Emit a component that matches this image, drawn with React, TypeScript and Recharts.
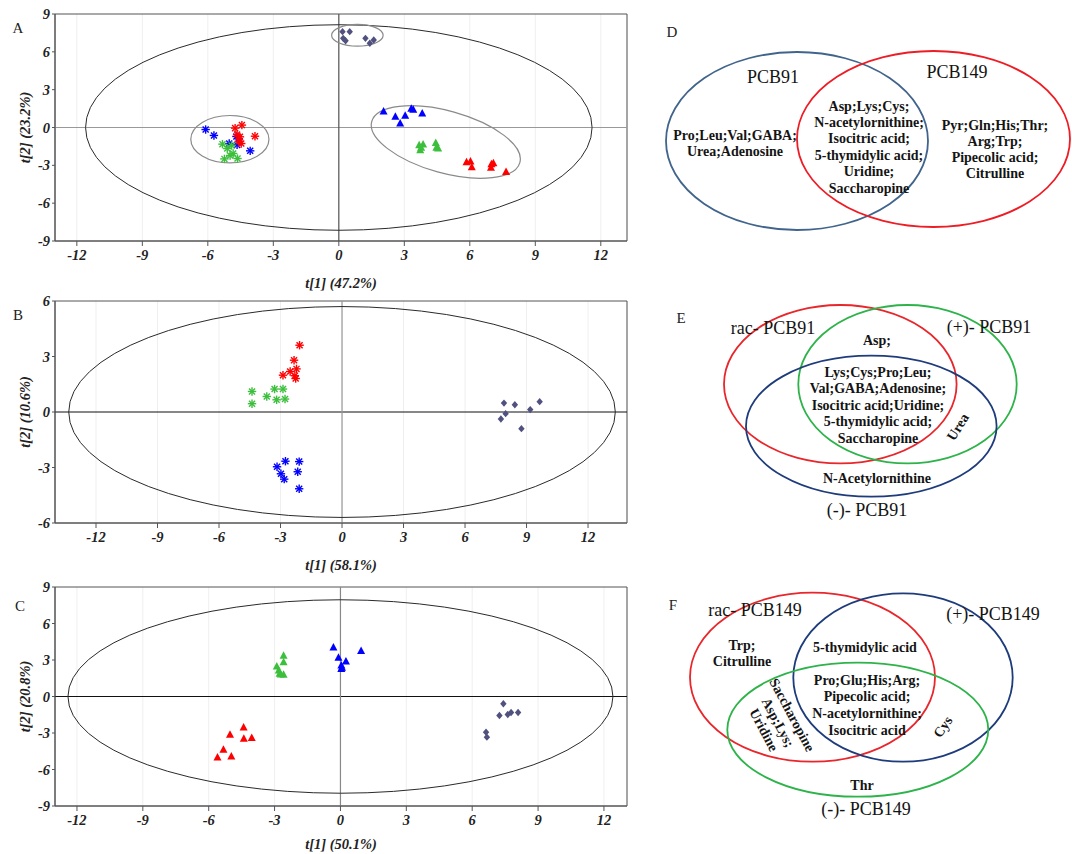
import React from 'react'
import {
  ScatterChart,
  Scatter,
  XAxis,
  YAxis,
  CartesianGrid,
  ReferenceLine,
  ReferenceArea,
} from 'recharts'

const SERIF = '"Liberation Serif", "Times New Roman", serif'
const RED = '#ff0000'
const BLUE = '#0000ff'
const GREEN = '#3cbf3c'
const SLATE = '#515180'

// score plot ticks
const xTicks = [-12, -9, -6, -3, 0, 3, 6, 9, 12]
const yTicks9 = [-9, -6, -3, 0, 3, 6, 9]
const yTicks6 = [-6, -3, 0, 3, 6]

// A: t[1] vs t[2], all groups
const aStarBlue = [[-6.1, -0.16], [-5.72, -0.63], [-5.02, -1.27], [-4.69, -0.71], [-4.66, -1.38], [-4.58, -0.9], [-4.06, -1.85]]
const aStarRed = [[-4.75, -0.05], [-4.44, 0.19], [-3.84, -0.69], [-4.53, -0.74], [-4.47, -1.27], [-4.58, -1.08], [-4.66, -0.56]]
const aStarGreen = [[-5.33, -1.32], [-5.11, -1.67], [-4.91, -1.43], [-4.84, -2.06], [-4.98, -2.22], [-5.24, -2.49], [-4.64, -2.46]]
const aTriBlue = [[2.05, 1.27], [2.59, 0.85], [2.81, 0.32], [3.04, 0.93], [3.32, 1.48], [3.41, 1.4], [3.82, 1.11]]
const aTriGreen = [[3.68, -1.4], [3.73, -1.8], [3.86, -1.35], [4.44, -1.22], [4.47, -1.61], [4.55, -1.67], [3.77, -1.61]]
const aTriRed = [[5.85, -2.75], [6.03, -2.7], [6.09, -3.15], [6.99, -2.91], [7.08, -2.83], [6.97, -3.2], [7.66, -3.52]]
const aDiamond = [[0.17, 7.6], [0.5, 7.6], [0.2, 7.07], [0.31, 6.88], [1.22, 7.07], [1.42, 6.68], [1.6, 6.94]]
const aHotelling = [{ x: 0, y: 0, rx: 11.6, ry: 8.15 }]
const aClusters = [
  { x: 0.85, y: 7.31, rx: 1.18, ry: 0.86, angle: 0 },
  { x: -4.99, y: -0.93, rx: 1.79, ry: 1.88, angle: 0 },
  { x: 4.9, y: -1.15, rx: 3.52, ry: 2.46, angle: 15.5 },
]

// B: PCB91
const bStarRed = [[-2.07, 3.61], [-2.34, 2.8], [-2.22, 2.33], [-2.53, 2.19], [-2.88, 1.99], [-2.3, 1.96], [-2.26, 1.81]]
const bStarGreen = [[-4.39, 1.11], [-4.39, 0.45], [-3.67, 0.84], [-3.29, 1.24], [-2.88, 1.24], [-3.19, 0.66], [-2.78, 0.7]]
const bStarBlue = [[-3.17, -2.96], [-2.76, -2.66], [-2.09, -2.68], [-2.98, -3.34], [-2.82, -3.63], [-2.16, -3.23], [-2.09, -4.15]]
const bDiamond = [[7.9, 0.48], [7.98, -0.09], [7.75, -0.38], [8.43, 0.39], [9.18, 0.13], [9.64, 0.56], [8.75, -0.9]]
const bHotelling = [{ x: 0, y: 0, rx: 13.33, ry: 5.7 }]

// C: PCB149
const cTriBlue = [[-0.32, 4.03], [-0.09, 3.18], [0.94, 3.73], [0.25, 2.88], [0.04, 2.55], [0.04, 2.27], [0.07, 2.36]]
const cTriGreen = [[-2.59, 3.34], [-2.59, 2.82], [-2.9, 2.47], [-2.81, 2.14], [-2.72, 1.81], [-2.59, 1.78], [-2.77, 1.86]]
const cTriRed = [[-4.41, -2.55], [-5.03, -3.15], [-4.4, -3.48], [-4.04, -3.42], [-5.33, -4.38], [-5.6, -5.01], [-4.97, -4.93]]
const cDiamond = [[7.42, -0.6], [7.24, -1.56], [7.62, -1.48], [7.77, -1.32], [8.09, -1.32], [6.63, -2.93], [6.67, -3.34]]
const cHotelling = [{ x: 0, y: 0, rx: 12.41, ry: 7.95 }]

// Venn texts
const dSetNames = ['PCB91', 'PCB149']
const dOnly91 = ['Pro;Leu;Val;GABA;', 'Urea;Adenosine']
const dShared = ['Asp;Lys;Cys;', 'N-acetylornithine;', 'Isocitric acid;', '5-thymidylic acid;', 'Uridine;', 'Saccharopine']
const dOnly149 = ['Pyr;Gln;His;Thr;', 'Arg;Trp;', 'Pipecolic acid;', 'Citrulline']

const eSetNames = ['rac- PCB91', '(+)- PCB91', '(-)- PCB91']
const eRacPlus = ['Asp;']
const eAll = ['Lys;Cys;Pro;Leu;', 'Val;GABA;Adenosine;', 'Isocitric acid;Uridine;', '5-thymidylic acid;', 'Saccharopine']
const ePlusMinus = ['Urea']
const eMinusOnly = ['N-Acetylornithine']

const fSetNames = ['rac- PCB149', '(+)- PCB149', '(-)- PCB149']
const fRacOnly = ['Trp;', 'Citrulline']
const fRacPlus = ['5-thymidylic acid']
const fAll = ['Pro;Glu;His;Arg;', 'Pipecolic acid;', 'N-acetylornithine;', 'Isocitric acid']
const fRacMinus = ['Saccharopine', 'Asp;Lys;', 'Uridine']
const fPlusMinus = ['Cys']
const fMinusOnly = ['Thr']

const pts = (arr: number[][]) => arr.map(([x, y]) => ({ x, y }))

const tickStyle = { fontFamily: SERIF, fontSize: 14.5, fontWeight: 700, fontStyle: 'italic', fill: '#222' }

function markerShape(marker: string, color: string) {
  return (p: any) => {
    const { cx, cy } = p
    if (cx == null || cy == null) return <g />
    if (marker === 'star') {
      const r = 4.2
      const d = r * 0.72
      return (
        <g stroke={color} strokeWidth={1.4}>
          <line x1={cx - r} y1={cy} x2={cx + r} y2={cy} />
          <line x1={cx} y1={cy - r} x2={cx} y2={cy + r} />
          <line x1={cx - d} y1={cy - d} x2={cx + d} y2={cy + d} />
          <line x1={cx - d} y1={cy + d} x2={cx + d} y2={cy - d} />
        </g>
      )
    }
    if (marker === 'tri') {
      return <polygon points={`${cx},${cy - 4.5} ${cx - 4},${cy + 3} ${cx + 4},${cy + 3}`} fill={color} />
    }
    return <polygon points={`${cx},${cy - 3.7} ${cx + 3.2},${cy} ${cx},${cy + 3.7} ${cx - 3.2},${cy}`} fill={color} />
  }
}

function ellipseShape(kx: number, ky: number, stroke: string, width: number) {
  return (p: any) => {
    const { cx, cy, payload } = p
    const a = payload.angle || 0
    return (
      <ellipse
        cx={cx}
        cy={cy}
        rx={payload.rx * kx}
        ry={payload.ry * ky}
        transform={`rotate(${a} ${cx} ${cy})`}
        fill="none"
        stroke={stroke}
        strokeWidth={width}
      />
    )
  }
}

function AxisTitle(props: any) {
  const { viewBox, kind, text, gap = 42 } = props
  if (!viewBox) return null
  const { x, y, width, height } = viewBox
  const style = { fontFamily: SERIF, fontSize: 14.5, fontWeight: 700, fontStyle: 'italic' as const }
  if (kind === 'x') {
    return (
      <text x={x + width / 2} y={y + gap} textAnchor="middle" dominantBaseline="central" fill="#222" style={style}>
        {text}
      </text>
    )
  }
  const cx = x + 25
  const cy = y + height / 2
  return (
    <text x={cx} y={cy} transform={`rotate(-90 ${cx} ${cy})`} textAnchor="middle" dominantBaseline="central" fill="#222" style={style}>
      {text}
    </text>
  )
}

function Letter({ x, y, text }: { x: number; y: number; text: string }) {
  return (
    <div
      style={{
        position: 'absolute',
        left: x,
        top: y,
        transform: 'translate(-50%, -50%)',
        fontFamily: SERIF,
        fontSize: 15,
        color: '#222',
        lineHeight: 1,
      }}
    >
      {text}
    </div>
  )
}

type Series = { data: number[][]; marker: string; color: string }

function ScorePlot(props: {
  top: number
  plotTop: number
  plotBottom: number
  xDomain: [number, number]
  yDomain: [number, number]
  yTicks: number[]
  xTitle: string
  yTitle: string
  titleGap?: number
  hotelling: any[]
  clusters?: any[]
  series: Series[]
  hLine: string
  vLine: string
}) {
  const { top, plotTop, plotBottom, xDomain, yDomain, yTicks, xTitle, yTitle, titleGap, hotelling, clusters, series, hLine, vLine } = props
  const width = 640
  const plotW = width - 55 - 13
  const plotH = plotBottom - plotTop
  const kx = plotW / (xDomain[1] - xDomain[0])
  const ky = plotH / (yDomain[1] - yDomain[0])
  return (
    <div style={{ position: 'absolute', left: 0, top }}>
      <ScatterChart
        width={width}
        height={plotBottom - top + 54}
        margin={{ top: plotTop - top, right: 13, bottom: 0, left: 0 }}
      >
        <CartesianGrid horizontal={false} stroke="#efefef" />
        <XAxis
          type="number"
          dataKey="x"
          domain={xDomain}
          ticks={xTicks}
          interval={0}
          allowDataOverflow
          height={54}
          tickSize={5}
          tickMargin={4}
          tick={tickStyle}
          axisLine={{ stroke: '#555' }}
          tickLine={{ stroke: '#555' }}
          label={<AxisTitle kind="x" text={xTitle} gap={titleGap ?? 42} />}
        />
        <YAxis
          type="number"
          dataKey="y"
          domain={yDomain}
          ticks={yTicks}
          interval={0}
          allowDataOverflow
          width={55}
          tickSize={3}
          tickMargin={2}
          tick={tickStyle}
          axisLine={{ stroke: '#555' }}
          tickLine={{ stroke: '#555' }}
          label={<AxisTitle kind="y" text={yTitle} />}
        />
        <ReferenceArea
          x1={xDomain[0]}
          x2={xDomain[1]}
          y1={yDomain[0]}
          y2={yDomain[1]}
          fill="none"
          fillOpacity={0}
          stroke="#555"
        />
        <ReferenceLine y={0} stroke={hLine} strokeWidth={1.2} />
        <ReferenceLine x={0} stroke={vLine} strokeWidth={1.2} />
        <Scatter data={hotelling} shape={ellipseShape(kx, ky, '#2a2a2a', 1)} isAnimationActive={false} />
        {clusters && (
          <Scatter data={clusters} shape={ellipseShape(kx, ky, '#8a8a8a', 1.2)} isAnimationActive={false} />
        )}
        {series.map((s, i) => (
          <Scatter key={i} data={pts(s.data)} shape={markerShape(s.marker, s.color)} isAnimationActive={false} />
        ))}
      </ScatterChart>
    </div>
  )
}

const vennEllipse = (p: any) => {
  const { cx, cy, payload } = p
  return <ellipse cx={cx} cy={cy} rx={payload.rx} ry={payload.ry} fill="none" stroke={payload.color} strokeWidth={1.8} />
}

const vennText = (p: any) => {
  const { cx, cy, payload } = p
  const step = payload.step ?? 16.5
  return (
    <g transform={payload.angle ? `rotate(${payload.angle} ${cx} ${cy})` : undefined}>
      {payload.lines.map((t: string, i: number) => (
        <text
          key={i}
          x={cx}
          y={cy + i * step}
          textAnchor="middle"
          dominantBaseline="central"
          fontFamily={SERIF}
          fontSize={payload.size}
          fontWeight={payload.bold ? 700 : 400}
          fill="#141414"
        >
          {t}
        </text>
      ))}
    </g>
  )
}

function Venn({ top, height, ellipses, texts }: { top: number; height: number; ellipses: any[]; texts: any[] }) {
  return (
    <div style={{ position: 'absolute', left: 640, top }}>
      <ScatterChart width={432} height={height} margin={{ top: 0, right: 0, bottom: 0, left: 0 }}>
        <XAxis type="number" dataKey="x" domain={[0, 432]} hide allowDataOverflow />
        <YAxis type="number" dataKey="y" domain={[0, height]} reversed hide allowDataOverflow />
        <Scatter data={ellipses} shape={vennEllipse} isAnimationActive={false} />
        <Scatter data={texts} shape={vennText} isAnimationActive={false} />
      </ScatterChart>
    </div>
  )
}

const setName = (name: string, x: number, y: number) => ({ x, y, lines: [name], size: 18, bold: false })
const block = (lines: string[], x: number, y: number, step = 16.5, angle = 0) => ({ x, y, lines, step, angle, size: 14, bold: true })

export default function App() {
  const vennD = {
    ellipses: [
      { x: 157, y: 141, rx: 131, ry: 89, color: '#41648c' },
      { x: 293.5, y: 139, rx: 136.5, ry: 88, color: '#ee1c24' },
    ],
    texts: [
      setName(dSetNames[0], 133, 77),
      setName(dSetNames[1], 317, 72),
      block(dOnly91, 95, 135, 16),
      block(dShared, 229, 106, 16.4),
      block(dOnly149, 355, 125, 16.3),
    ],
  }
  const vennE = {
    ellipses: [
      { x: 200.3, y: 94.2, rx: 116.3, ry: 79.2, color: '#e8262b' },
      { x: 267.5, y: 94.2, rx: 109.2, ry: 79.2, color: '#2db34a' },
      { x: 231.3, y: 136.2, rx: 125.3, ry: 70.5, color: '#1e3b7b' },
    ],
    texts: [
      setName(eSetNames[0], 133, 38),
      setName(eSetNames[1], 349, 37),
      setName(eSetNames[2], 227, 220),
      block(eRacPlus, 237, 50),
      block(eAll, 238, 82, 16.5),
      block(ePlusMinus, 318, 137, 16, -58),
      block(eMinusOnly, 237, 188),
    ],
  }
  const vennF = {
    ellipses: [
      { x: 172.5, y: 97.2, rx: 122.5, ry: 84.5, color: '#e8262b' },
      { x: 263, y: 97.5, rx: 109.7, ry: 84.2, color: '#1e3b7b' },
      { x: 217.8, y: 149.7, rx: 130.5, ry: 67, color: '#2db34a' },
    ],
    texts: [
      setName(fSetNames[0], 115, 30),
      setName(fSetNames[1], 353, 34),
      setName(fSetNames[2], 226, 229),
      block(fRacOnly, 102, 65, 16.7),
      block(fRacPlus, 225, 67),
      block(fAll, 227, 100, 16.8),
      block(fRacMinus, 152, 135, 16, 62),
      block(fPlusMinus, 303, 147, 16, -55),
      block(fMinusOnly, 222, 205),
    ],
  }

  return (
    <div
      style={{
        position: 'absolute',
        left: 0,
        top: 0,
        width: 1072,
        height: 854,
        background: '#fff',
        overflow: 'hidden',
        fontFamily: SERIF,
      }}
    >
      <ScorePlot
        top={0}
        plotTop={14}
        plotBottom={241}
        xDomain={[-13, 13.2]}
        yDomain={[-9, 9]}
        yTicks={yTicks9}
        xTitle="t[1] (47.2%)"
        yTitle="t[2] (23.2%)"
        hotelling={aHotelling}
        clusters={aClusters}
        hLine="#999"
        vLine="#555"
        series={[
          { data: aStarBlue, marker: 'star', color: BLUE },
          { data: aStarGreen, marker: 'star', color: GREEN },
          { data: aStarRed, marker: 'star', color: RED },
          { data: aTriBlue, marker: 'tri', color: BLUE },
          { data: aTriGreen, marker: 'tri', color: GREEN },
          { data: aTriRed, marker: 'tri', color: RED },
          { data: aDiamond, marker: 'dia', color: SLATE },
        ]}
      />
      <ScorePlot
        top={290}
        plotTop={301}
        plotBottom={523}
        xDomain={[-14, 13.9]}
        yDomain={[-6, 6]}
        yTicks={yTicks6}
        xTitle="t[1] (58.1%)"
        yTitle="t[2] (10.6%)"
        hotelling={bHotelling}
        hLine="#111"
        vLine="#999"
        series={[
          { data: bStarRed, marker: 'star', color: RED },
          { data: bStarGreen, marker: 'star', color: GREEN },
          { data: bStarBlue, marker: 'star', color: BLUE },
          { data: bDiamond, marker: 'dia', color: SLATE },
        ]}
      />
      <ScorePlot
        top={575}
        plotTop={587}
        plotBottom={806}
        xDomain={[-13, 13.05]}
        yDomain={[-9, 9]}
        yTicks={yTicks9}
        xTitle="t[1]  (50.1%)"
        yTitle="t[2] (20.8%)"
        titleGap={38}
        hotelling={cHotelling}
        hLine="#111"
        vLine="#888"
        series={[
          { data: cTriBlue, marker: 'tri', color: BLUE },
          { data: cTriGreen, marker: 'tri', color: GREEN },
          { data: cTriRed, marker: 'tri', color: RED },
          { data: cDiamond, marker: 'dia', color: SLATE },
        ]}
      />
      <Venn top={0} height={250} ellipses={vennD.ellipses} texts={vennD.texts} />
      <Venn top={290} height={240} ellipses={vennE.ellipses} texts={vennE.texts} />
      <Venn top={580} height={274} ellipses={vennF.ellipses} texts={vennF.texts} />
      <Letter x={18} y={28} text="A" />
      <Letter x={18} y={315} text="B" />
      <Letter x={20} y={606} text="C" />
      <Letter x={672} y={32} text="D" />
      <Letter x={681} y={318} text="E" />
      <Letter x={673} y={605} text="F" />
    </div>
  )
}
